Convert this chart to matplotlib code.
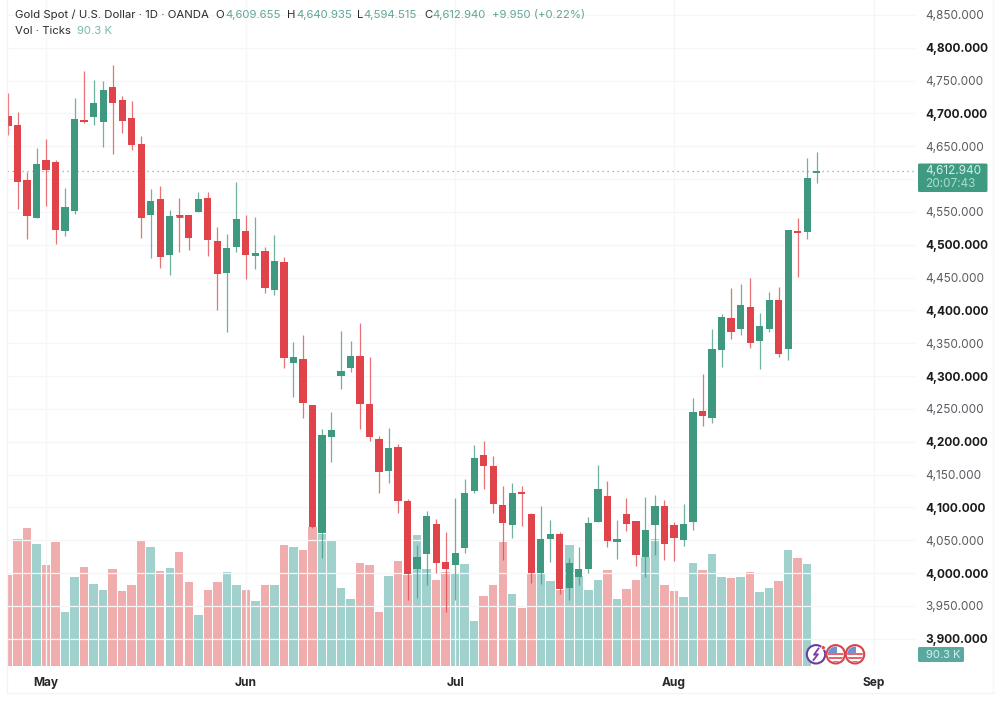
import matplotlib
matplotlib.use('Agg')
import matplotlib.pyplot as plt
from matplotlib.patches import Circle, FancyBboxPatch, Rectangle
import numpy as np

plt.rcParams['font.family'] = ['Inter', 'DejaVu Sans']

# OHLC
opens = [4696.5, 4682.2, 4598, 4540.1, 4629, 4625.4, 4520.3, 4551.3, 4690.4, 4694.4,
         4687.3, 4740.6, 4720.3, 4693.4, 4653.8, 4545.2, 4569.6, 4484.3, 4544.7, 4544.7,
         4549.8, 4571.6, 4506.1, 4456.4, 4496.5, 4520.3, 4482.8, 4489.9, 4431, 4473.6,
         4320.3, 4325.4, 4255.3, 4060.4, 4207.6, 4300.5, 4311.7, 4331, 4256.9, 4203.6,
         4155.9, 4191.4, 4110.2, 4005.5, 4029, 4074.6, 4016.8, 4012, 4037.6, 4124.4,
         4179.2, 4163.5, 4103.6, 4073.1, 4123.9, 4089.9, 3999.5, 4051.8, 4059.4, 3977.6,
         3993.4, 4006.1, 4077.7, 4117.8, 4047.7, 4089.3, 4079.1, 4024.8, 4073, 4102,
         4073.6, 4050.2, 4077.1, 4247.2, 4235.5, 4339.6, 4388.8, 4371.6, 4404.6, 4352.8,
         4371.6, 4415.2, 4341.1, 4521.3, 4519.3, 4609.655]
highs = [4730.5, 4701.5, 4610.2, 4646.7, 4660.9, 4629, 4585.8, 4722.9, 4765, 4750.3,
         4749.3, 4773.6, 4726.9, 4718.8, 4665.5, 4584.3, 4589.4, 4552.8, 4570.6, 4545.2,
         4579.7, 4579.7, 4527.4, 4516.3, 4595, 4545.7, 4541.6, 4496, 4515.3, 4481.7,
         4352.3, 4363, 4255.9, 4218.8, 4245.7, 4368.5, 4353.8, 4381.2, 4328.5, 4208.6,
         4220.3, 4196.5, 4112.7, 4042.6, 4095, 4082.3, 4062, 4114.7, 4142.7, 4194.4,
         4201.5, 4178.7, 4132.5, 4136.6, 4133, 4091.9, 4102.6, 4080.7, 4063, 4022.3,
         4039.1, 4085.8, 4164.5, 4140.1, 4080.7, 4114.7, 4079.2, 4115.2, 4118.7, 4111.1,
         4077.1, 4105, 4267, 4303.5, 4371, 4394.4, 4434.5, 4440.6, 4449.7, 4396.4,
         4427.9, 4436, 4522.8, 4541.1, 4632, 4640.935]
lows = [4667, 4554.3, 4509.2, 4540.1, 4559.4, 4500.5, 4513.2, 4546.7, 4685.8, 4682.2,
        4648.7, 4638.6, 4669.6, 4644.2, 4510.2, 4480.2, 4465, 4453.3, 4489.4, 4491.9,
        4549.8, 4482.8, 4400.5, 4366.5, 4489.4, 4447.7, 4462.5, 4426.9, 4423.4, 4311.7,
        4268.5, 4236.6, 4068, 4023.4, 4169.6, 4279.7, 4306.6, 4218.8, 4201.5, 4121.3,
        4136.6, 4090.9, 3958.9, 3961.4, 3981.8, 3999.5, 3941.1, 3958.9, 4031, 4121.3,
        4127.4, 4090.9, 4019.8, 4052.8, 4072.1, 3985.3, 3982.8, 4016.3, 3968, 3958.9,
        3981.8, 3999.5, 4077.7, 4039.1, 4020.8, 4063.9, 4010.6, 3994.4, 4027.4, 4019.7,
        4018.7, 4041.6, 4065.4, 4223.9, 4228.9, 4313.2, 4355.8, 4362.4, 4343.1, 4310.1,
        4367, 4328.4, 4324.4, 4450.2, 4509.1, 4594.515]
closes = [4681.2, 4596, 4543.7, 4622.4, 4613.2, 4522.9, 4557.4, 4690.9, 4686.8, 4715.8,
          4735.5, 4715.8, 4688.8, 4651.8, 4540.1, 4566, 4481.7, 4543.7, 4543.7, 4509.7,
          4569.6, 4507.6, 4455.4, 4495, 4539.6, 4483.8, 4487.8, 4434, 4474.6, 4327,
          4329.5, 4258.9, 4069.6, 4210.2, 4217.3, 4307.6, 4330, 4256.9, 4207.6, 4154.3,
          4190.4, 4109.7, 3998, 4024.8, 4086.8, 4014.7, 4005.6, 4030, 4122.3, 4174.6,
          4163.5, 4105.1, 4075.7, 4122.3, 4119.8, 3999.5, 4051.3, 4059.4, 3975.2, 4015.7,
          4006.1, 4075.7, 4128.4, 4048.8, 4051.3, 4075.1, 4027.4, 4064.9, 4102, 4043.6,
          4052.7, 4075.1, 4245.7, 4239.6, 4341.1, 4389.8, 4367, 4407.6, 4350.2, 4375.6,
          4415.2, 4333.5, 4522.3, 4518.3, 4602, 4612.94]

# volume in K ticks
volumes = [80, 112.3, 121.8, 107.3, 89.4, 109.1, 47.6, 78.5, 87.3, 72.1,
           67.1, 85.3, 66.2, 71.5, 110, 105.3, 83.5, 86.5, 100.9, 73.8,
           44.7, 67.3, 73.8, 83.2, 71.5, 66.8, 57.3, 71.5, 71.5, 107.1,
           105, 102.6, 122.6, 116.8, 110, 69.1, 59.4, 90.9, 89.4, 47.6,
           79.7, 92.3, 80.6, 115.3, 85.3, 76.2, 82.6, 82.1, 90, 40,
           62.1, 71.2, 109.4, 63.8, 51.2, 81.5, 80.9, 74.7, 67.3, 106.5,
           79.1, 66.8, 76.2, 84.4, 59.1, 67.6, 76.2, 96.2, 112.3, 71.8,
           65.9, 60.9, 90.9, 84.4, 99.1, 78.8, 77.3, 78.2, 82.9, 65.3,
           69.1, 74.7, 102.6, 95.3, 90.3]

price_ticks = [3900, 3950, 4000, 4050, 4100, 4150, 4200, 4250, 4300, 4350,
               4400, 4450, 4500, 4550, 4600, 4650, 4700, 4750, 4800, 4850]
bold_ticks = [3900, 4000, 4100, 4200, 4300, 4400, 4500, 4700, 4800]
month_pos = [4, 25, 47, 70, 91]
month_labels = ['May', 'Jun', 'Jul', 'Aug', 'Sep']
last_price = 4612.94

GREEN = '#3f9880'
RED = '#e0434a'
GREEN_VOL = '#a0d1cd'
RED_VOL = '#efaead'
GRID = '#f6f6f6'

W, H = 1000, 702
fig = plt.figure(figsize=(W / 100, H / 100), dpi=100, facecolor='white')

# pane goes from x=7 to x=915, y=0 to y=666 in pixels
rect = [7 / W, 1 - 666 / H, 908 / W, 666 / H]

ax_vol = fig.add_axes(rect)
ax = fig.add_axes(rect)
ax.patch.set_alpha(0)

xlim = (-0.105, 95.33)
ax.set_xlim(xlim)
ax_vol.set_xlim(xlim)
ax.set_ylim(3858.4, 4872.6)
ax_vol.set_ylim(0, 587.8)

opens = np.array(opens)
closes = np.array(closes)
x = np.arange(len(opens))
up = closes >= opens
colors = [GREEN if u else RED for u in up]

# volume
vx = np.arange(len(volumes))
vcolors = [GREEN_VOL if u else RED_VOL for u in up[:len(volumes)]]
ax_vol.bar(vx, volumes, width=0.89, color=vcolors, linewidth=0)
ax_vol.set_yticks([])
ax_vol.set_xticks([])
for s in ax_vol.spines.values():
    s.set_visible(False)

# candles
ax.vlines(x, lows, highs, colors=colors, linewidth=0.9, alpha=0.75, zorder=3)
ax.bar(x, np.abs(closes - opens), bottom=np.minimum(opens, closes), width=0.76,
       color=colors, linewidth=0, zorder=4)
# the very thin bodies still show as a small dash
thin = np.abs(closes - opens) < 3
ax.hlines(((opens + closes) / 2)[thin], x[thin] - 0.38, x[thin] + 0.38,
          colors=np.array(colors)[thin], linewidth=2, zorder=4)

ax.axhline(last_price, color='#4fa893', linewidth=0.9, linestyle=(0, (1, 3)), alpha=0.85, zorder=2)

# axes
ax.set_yticks(price_ticks)
labels = ['' if p == 4600 else f'{p:,.3f}' for p in price_ticks]
ax.set_yticklabels(labels)
ax.yaxis.tick_right()
ax.tick_params(axis='y', length=0, pad=7.5, labelsize=8.5)
for p, lab in zip(price_ticks, ax.get_yticklabels()):
    if p in bold_ticks:
        lab.set_fontweight('bold')
        lab.set_color('#1c1c1f')
    else:
        lab.set_color('#5a5b61')

ax.set_xticks(month_pos)
ax.set_xticklabels(month_labels, fontweight='bold', fontsize=8.6, color='#26272b')
ax.tick_params(axis='x', length=0, pad=8.2)
ax.grid(True, color=GRID, linewidth=0.9, zorder=0)
ax.set_axisbelow(True)
for s in ax.spines.values():
    s.set_visible(False)

# overlay in pixel coordinates for header, badges, frame and icons
ov = fig.add_axes([0, 0, 1, 1], facecolor='none')
ov.set_xlim(0, W)
ov.set_ylim(H, 0)
ov.axis('off')

ov.plot([7, 7], [0, 692.5], color='#f3f3f3', lw=0.9)
ov.plot([7, 993], [692.5, 692.5], color='#f3f3f3', lw=0.9)
ov.plot([993, 993], [0, 692.5], color='#f6f6f6', lw=0.9)

DARK = '#2a2b30'
VAL = '#5fa596'
hdr = dict(fontsize=8.2, va='center', ha='left')
ov.text(15, 15, 'Gold Spot / U.S. Dollar · 1D · OANDA', color=DARK, **hdr)
ov.text(215.5, 15, 'O', color=DARK, **hdr)
ov.text(225, 15, '4,609.655', color=VAL, **hdr)
ov.text(287, 15, 'H', color=DARK, **hdr)
ov.text(296, 15, '4,640.935', color=VAL, **hdr)
ov.text(357, 15, 'L', color=DARK, **hdr)
ov.text(363.5, 15, '4,594.515', color=VAL, **hdr)
ov.text(424, 15, 'C', color=DARK, **hdr)
ov.text(432.5, 15, '4,612.940', color=VAL, **hdr)
ov.text(492.5, 15, '+9.950 (+0.22%)', color=VAL, **hdr)
ov.text(15, 31, 'Vol · Ticks', color=DARK, **hdr)
ov.text(77, 31, '90.3 K', color='#79b8ae', **hdr)

# price badge
ov.add_patch(FancyBboxPatch((918, 163.5), 69.5, 28.5, boxstyle='round,pad=0,rounding_size=1.5',
                            fc='#3f9a82', ec='none', zorder=5))
ov.text(925.5, 170.5, '4,612.940', color='#d2eee6', fontsize=8.5, va='center', zorder=6)
ov.text(925.5, 184, '20:07:43', color='#a9dccf', fontsize=8.5, va='center', zorder=6)

# volume badge
ov.add_patch(FancyBboxPatch((918, 647), 46, 15, boxstyle='round,pad=0,rounding_size=1.5',
                            fc='#5aa9a0', ec='none', zorder=5))
ov.text(925.5, 654.5, '90.3 K', color='#d5efea', fontsize=8, va='center', zorder=6)

# event icons
ov.add_patch(Circle((816, 654.3), 9.2, fc='white', ec='#6a3d9a', lw=1.5, zorder=7))
ov.plot([818.5, 814, 818, 813.5], [648.5, 654.8, 654.2, 660], color='#7b3fb0', lw=1.3, zorder=8)
ov.add_patch(Circle((823.3, 647.7), 2, fc='#e0434a', ec='white', lw=0.5, zorder=9))
for cx in [835.7, 855]:
    ov.add_patch(Circle((cx, 654.3), 9.2, fc='white', ec='#d9434a', lw=1.5, zorder=7))
    clip = Circle((cx, 654.3), 7.8, transform=ov.transData)
    for yy in [653, 657, 661]:
        r = Rectangle((cx - 8, yy), 16, 2, fc='#e6666b', ec='none', zorder=8)
        ov.add_patch(r)
        r.set_clip_path(clip)
    c = Rectangle((cx - 8, 646), 9, 7.5, fc='#6f93d6', ec='none', zorder=9)
    ov.add_patch(c)
    c.set_clip_path(clip)

fig.savefig('out.png', dpi=100)
